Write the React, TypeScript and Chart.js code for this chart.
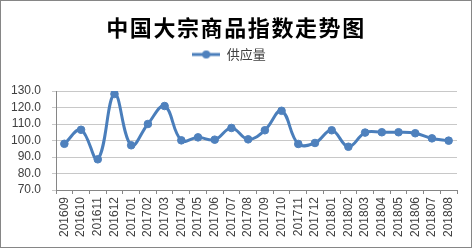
import React, { useEffect, useRef } from "react";
import { Chart, registerables } from "chart.js";

Chart.register(...registerables);

const title = "中国大宗商品指数走势图";
const seriesName = "供应量";
const categories = [
  "201609", "201610", "201611", "201612", "201701", "201702", "201703", "201704",
  "201705", "201706", "201707", "201708", "201709", "201710", "201711", "201712",
  "201801", "201802", "201803", "201804", "201805", "201806", "201807", "201808",
];
const supply = [
  98.0, 106.5, 88.6, 128.2, 97.1, 110.0, 120.9, 100.1,
  101.9, 100.5, 107.6, 100.7, 106.2, 118.0, 97.9, 98.5,
  106.2, 96.2, 104.8, 105.0, 105.0, 104.4, 101.3, 99.9,
];
const yMin = 70;
const yMax = 130;
const yStep = 10;

const LINE = "#4A7EBB";
const MARK = "#4F81BD";

function legendIcon(): HTMLCanvasElement {
  const c = document.createElement("canvas");
  c.width = 28;
  c.height = 10;
  const ctx = c.getContext("2d")!;
  ctx.strokeStyle = LINE;
  ctx.lineWidth = 3;
  ctx.beginPath();
  ctx.moveTo(0, 5);
  ctx.lineTo(28, 5);
  ctx.stroke();
  ctx.fillStyle = MARK;
  ctx.beginPath();
  ctx.arc(14, 5, 4, 0, Math.PI * 2);
  ctx.fill();
  return c;
}

export default function App() {
  const ref = useRef<HTMLCanvasElement | null>(null);
  useEffect(() => {
    document.body.style.margin = "0";
    const chart = new Chart(ref.current!, {
      type: "line",
      data: {
        labels: categories,
        datasets: [
          {
            label: seriesName,
            data: supply,
            borderColor: LINE,
            backgroundColor: MARK,
            borderWidth: 3,
            pointRadius: 3.8,
            pointBorderWidth: 1,
            pointBorderColor: MARK,
            pointBackgroundColor: MARK,
            tension: 0.4,
            fill: false,
          },
        ],
      },
      options: {
        animation: false,
        responsive: false,
        layout: { padding: { top: 37, right: 12, left: 0, bottom: 0 } },
        plugins: {
          title: { display: false },
          subtitle: {
            display: true,
            text: "",
            weight: 500,
            padding: 0,
            font: { size: 10, lineHeight: "20px" },
          } as any,
          tooltip: { enabled: false },
          legend: {
            display: true,
            position: "top",
            labels: {
              usePointStyle: true,
              pointStyle: legendIcon(),
              pointStyleWidth: 28,
              color: "#404040",
              font: { family: "'Noto Sans CJK SC'", size: 13 },
              padding: 10,
            },
          },
        },
        scales: {
          x: {
            type: "category",
            offset: true,
            border: { display: true, color: "#868686", width: 1 },
            grid: { display: true, drawOnChartArea: false, drawTicks: true, tickLength: 4, offset: true, color: "#868686" },
            ticks: {
              minRotation: 90,
              maxRotation: 90,
              autoSkip: false,
              padding: 3,
              color: "#404040",
              font: { family: "'Liberation Sans'", size: 12 },
            },
            afterFit: (s: any) => {
              s.height = 55;
            },
          },
          y: {
            min: yMin,
            max: yMax,
            border: { display: true, color: "#868686", width: 1 },
            grid: { color: "#C8C8C8", tickLength: 4, drawTicks: true },
            ticks: {
              stepSize: yStep,
              autoSkip: false,
              padding: 11,
              color: "#404040",
              font: { family: "'Liberation Sans'", size: 12 },
              callback: (v: any) => Number(v).toFixed(1),
            },
            afterFit: (s: any) => {
              s.width = 55;
            },
          },
        },
      },
    });
    return () => chart.destroy();
  }, []);
  return (
    <div
      style={{
        position: "fixed",
        left: 0,
        top: 0,
        width: 470,
        height: 246,
        border: "1px solid #868686",
        background: "#fff",
      }}
    >
      <div
        style={{
          position: "absolute",
          left: 0,
          top: 11,
          width: 470,
          textAlign: "center",
          fontFamily: "'Noto Sans CJK SC'",
          fontWeight: 700,
          fontSize: 22,
          letterSpacing: 1.6,
          lineHeight: "28px",
          color: "#000",
        }}
      >
        {title}
      </div>
      <canvas ref={ref} width={468} height={244} style={{ display: "block", width: 468, height: 244 }} />
    </div>
  );
}
